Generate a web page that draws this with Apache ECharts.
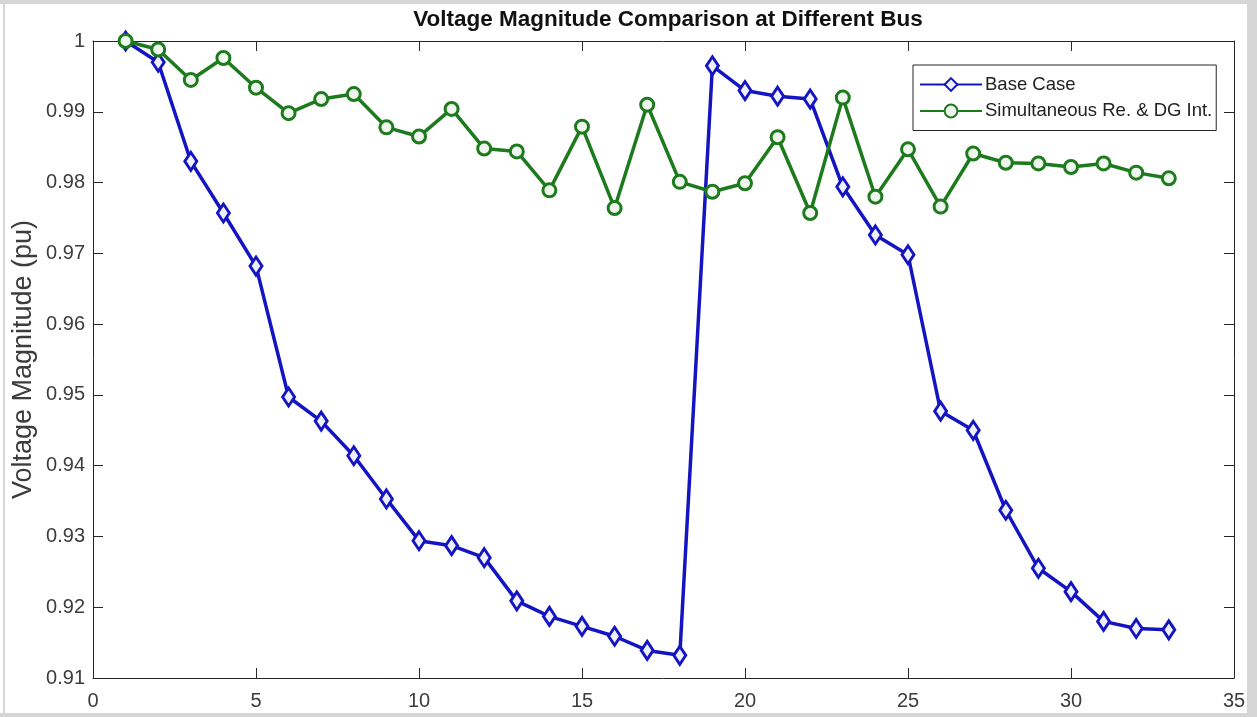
<!DOCTYPE html>
<html>
<head>
<meta charset="utf-8">
<title>Voltage Magnitude Comparison at Different Bus</title>
<script src="https://cdn.jsdelivr.net/npm/echarts@6/dist/echarts.min.js"></script>
<style>
  html, body { margin: 0; padding: 0; background: #ffffff; }
  #chart { width: 1257px; height: 717px; }
</style>
</head>
<body>
<div id="chart"></div>
<script>
// Bus index along the feeder
const busNumbers = [1, 2, 3, 4, 5, 6, 7, 8, 9, 10, 11, 12, 13, 14, 15, 16, 17,
  18, 19, 20, 21, 22, 23, 24, 25, 26, 27, 28, 29, 30, 31, 32, 33];

// Bus voltage magnitudes (pu) before any action
const baseCase = [1.0000, 0.9970, 0.9830, 0.9757, 0.9682, 0.9497, 0.9463, 0.9414,
  0.9353, 0.9294, 0.9287, 0.9270, 0.9209, 0.9187, 0.9173, 0.9159, 0.9139,
  0.9132, 0.9965, 0.9930, 0.9922, 0.9918, 0.9794, 0.9726, 0.9698, 0.9477,
  0.9450, 0.9337, 0.9255, 0.9222, 0.9180, 0.9170, 0.9168];

// Bus voltage magnitudes (pu) with simultaneous reconfiguration and DG integration
const simultaneous = [1.0000, 0.9988, 0.9945, 0.9976, 0.9934, 0.9898, 0.9918, 0.9925,
  0.9878, 0.9865, 0.9904, 0.9848, 0.9844, 0.9789, 0.9879, 0.9764, 0.9910,
  0.9801, 0.9787, 0.9799, 0.9864, 0.9757, 0.9920, 0.9780, 0.9847, 0.9766,
  0.9841, 0.9828, 0.9827, 0.9822, 0.9827, 0.9814, 0.9806];

const seriesNames = ['Base Case', 'Simultaneous Re. & DG Int.'];

const BLUE = '#1414c2';
const GREEN = '#1d7a1d';
const AXIS = '#262626';
const TEXT = '#3c3c3c';
const FONT = '"Liberation Sans", Arial, Helvetica, sans-serif';

const toPairs = vals => busNumbers.map((b, i) => [b, vals[i]]);
const fmtY = v => String(Math.round(v * 100) / 100);

// Axis with inward ticks; the four of them close the plot box
const boxAxis = (extra) => Object.assign({
  type: 'value',
  axisLine: { show: true, onZero: false, lineStyle: { color: AXIS, width: 1 } },
  axisTick: { show: true, inside: true, length: 10, lineStyle: { color: AXIS, width: 1 } },
  splitLine: { show: false },
  axisLabel: { show: false }
}, extra);

const chart = echarts.init(document.getElementById('chart'), null, { renderer: 'canvas' });

chart.setOption({
  backgroundColor: '#ffffff',
  animation: false,
  title: {
    text: 'Voltage Magnitude Comparison at Different Bus',
    left: 663, textAlign: 'center',
    top: 3,
    textStyle: { fontFamily: FONT, fontWeight: 'bold', fontSize: 22.5, color: '#111111' }
  },
  legend: {
    orient: 'vertical',
    left: 913, top: 65,
    padding: [10, 4, 10, 6],
    itemGap: 7.5,
    itemWidth: 62, itemHeight: 16,
    backgroundColor: '#ffffff',
    borderColor: AXIS, borderWidth: 1, borderRadius: 0,
    textStyle: { fontFamily: FONT, fontSize: 18.5, color: '#222222', padding: [0, 0, 0, -2] },
    data: seriesNames
  },
  grid: { left: 93, right: 23, top: 41, bottom: 39, containLabel: false },
  xAxis: [
    boxAxis({
      min: 0, max: 35, interval: 5, position: 'bottom',
      axisLabel: { show: true, margin: 13, fontFamily: FONT, fontSize: 20, color: TEXT }
    }),
    boxAxis({ min: 0, max: 35, interval: 5, position: 'top' })
  ],
  yAxis: [
    boxAxis({
      min: 0.91, max: 1, interval: 0.01, position: 'left',
      name: 'Voltage Magnitude (pu)', nameLocation: 'middle', nameGap: 56,
      nameMoveOverlap: false,
      nameTextStyle: { fontFamily: FONT, fontSize: 27, color: TEXT },
      axisLabel: { show: true, margin: 8, fontFamily: FONT, fontSize: 20, color: TEXT, formatter: fmtY }
    }),
    boxAxis({ min: 0.91, max: 1, interval: 0.01, position: 'right' })
  ],
  graphic: [
    // thin grey frame around the figure
    { type: 'rect', shape: { x: 0, y: 0, width: 1257, height: 4 }, style: { fill: '#d6d6d6' }, silent: true },
    { type: 'rect', shape: { x: 3, y: 0, width: 2, height: 717 }, style: { fill: '#d6d6d6' }, silent: true },
    { type: 'rect', shape: { x: 1247, y: 0, width: 10, height: 717 }, style: { fill: '#d6d6d6' }, silent: true },
    { type: 'rect', shape: { x: 0, y: 713, width: 1257, height: 4 }, style: { fill: '#d6d6d6' }, silent: true }
  ],
  series: [
    {
      name: seriesNames[0],
      type: 'line',
      xAxisIndex: 0, yAxisIndex: 0,
      data: toPairs(baseCase),
      symbol: 'diamond',
      symbolSize: [12, 18],
      showAllSymbol: true,
      lineStyle: { color: BLUE, width: 3.5 },
      itemStyle: { color: '#eef0ff', borderColor: BLUE, borderWidth: 3 },
      z: 2
    },
    {
      name: seriesNames[1],
      type: 'line',
      xAxisIndex: 0, yAxisIndex: 0,
      data: toPairs(simultaneous),
      symbol: 'circle',
      symbolSize: 13,
      showAllSymbol: true,
      lineStyle: { color: GREEN, width: 3.5 },
      itemStyle: { color: '#eef6ee', borderColor: GREEN, borderWidth: 3 },
      z: 3
    }
  ]
});
</script>
</body>
</html>
